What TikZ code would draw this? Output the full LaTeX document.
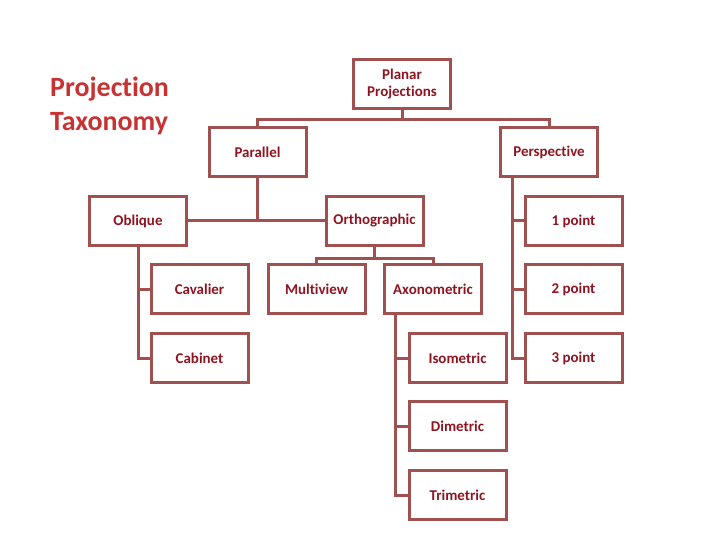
\documentclass[tikz,border=0pt]{standalone}
\usepackage{fontspec}
\setmainfont{Carlito}[Ligatures=NoCommon]
\usepackage{tikz}
\usepackage{xcolor}
\usetikzlibrary{positioning}
\definecolor{frame}{HTML}{A0504F}
\definecolor{ink}{HTML}{8E1420}
\definecolor{title}{HTML}{C83232}

\begin{document}
\begin{tikzpicture}[x=1bp,y=-1bp,every node/.style={font=\bfseries\fontsize{15}{17}\selectfont}]
    \tikzstyle{b}=[draw=frame,line width=3bp,minimum width=97bp,minimum height=49bp,
                   fill=white,text=ink,align=center,inner sep=2bp];
    \tikzstyle{link}=[draw=frame,line width=3bp];
    \useasboundingbox (0,0) rectangle (720,540);
    % title
    \node[text=title,align=left,anchor=west,inner sep=0pt,font=\bfseries\fontsize{28}{34}\selectfont] (ttl) at (50,106) {Projection\\Taxonomy};
    % boxes
    \node[b] (pp)  at (402,84)    {Planar\\Projections};
    \node[b] (par) at (257.5,152.5) {Parallel};
    \node[b] (per) at (549,152.5) {Perspective};
    \node[b] (obl) at (138,221)   {Oblique};
    \node[b] (ort) at (374.5,221) {Orthographic};
    \node[b] (cav) at (199.5,289) {Cavalier};
    \node[b] (cab) at (199.5,358) {Cabinet};
    \node[b] (mul) at (316.5,289) {Multiview};
    \node[b] (axo) at (433,289)   {Axonometric};
    \node[b] (iso) at (457.5,358) {Isometric};
    \node[b] (dim) at (457.5,426) {Dimetric};
    \node[b] (tri) at (457.5,495) {Trimetric};
    \node[b] (p1)  at (573.5,221) {1 point};
    \node[b] (p2)  at (573.5,289) {2 point};
    \node[b] (p3)  at (573.5,358) {3 point};

    % connectors
    \draw[link] (pp.south) -- ++(0,10) -| (par.north);
    \draw[link] (pp.south) -- ++(0,10) -| (per.north);
    \draw[link] (par.south) -- (par.south |- obl.east);
    \draw[link] (obl.east) -- (ort.west);
    \draw[link] (ort.south) -- ++(0,11) -| (mul.north);
    \draw[link] (ort.south) -- ++(0,11) -| (axo.north);
    \draw[link] (obl.south) |- (cav.west);
    \draw[link] (obl.south) |- (cab.west);
    \draw[link] ([xshift=-38bp]axo.south) |- (iso.west);
    \draw[link] ([xshift=-38bp]axo.south) |- (dim.west);
    \draw[link] ([xshift=-38bp]axo.south) |- (tri.west);
    \draw[link] ([xshift=-37bp]per.south) |- (p1.west);
    \draw[link] ([xshift=-37bp]per.south) |- (p2.west);
    \draw[link] ([xshift=-37bp]per.south) |- (p3.west);
  \end{tikzpicture}
\end{document}
